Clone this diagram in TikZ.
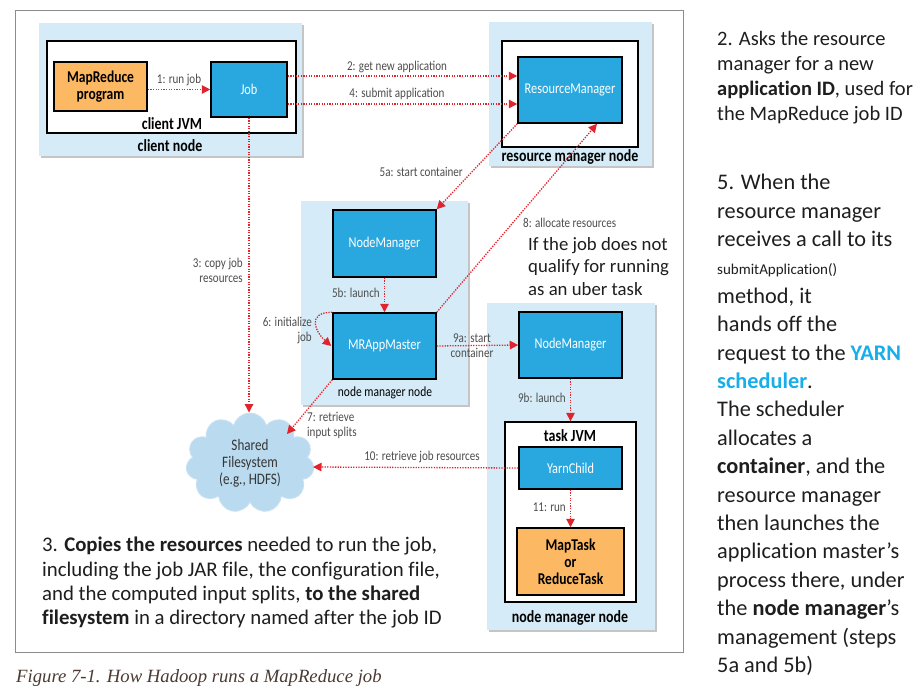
\documentclass[tikz,border=0pt]{standalone}
\usepackage{fontspec}
\setmainfont{Carlito}[Ligatures=NoCommon]
\newfontfamily\cond[FakeStretch=0.82]{Carlito}
\newfontfamily\capfont{Liberation Serif}
\usetikzlibrary{shapes.symbols,shadows,arrows.meta,calc}
\definecolor{nodebg}{HTML}{D5ECF8}
\definecolor{boxblue}{HTML}{29A8E0}
\definecolor{boxorange}{HTML}{FDB863}
\definecolor{arrred}{HTML}{E3232C}
\definecolor{cloudblue}{HTML}{B9DAEF}
\definecolor{lblgray}{HTML}{4D4D4D}
\definecolor{txt}{HTML}{1E1E1E}
\definecolor{yarn}{HTML}{17AEEA}
\definecolor{framegray}{HTML}{8C8C8C}
\definecolor{capcol}{HTML}{4B3A33}
\tikzset{
  hostnode/.style={rectangle, fill=nodebg, draw=none, inner sep=0,
    drop shadow={shadow xshift=2pt, shadow yshift=-2pt, fill=black!50, opacity=0.45}},
  jvmbox/.style={rectangle, fill=white, draw=black, line width=1.3pt, inner sep=0},
  bluebox/.style={rectangle, fill=boxblue, draw=black, line width=1.5pt, text=white,
    font=\cond\fontsize{15}{17}\selectfont, inner sep=0},
  orangebox/.style={rectangle, fill=boxorange, draw=black, line width=1.5pt, align=center,
    font=\cond\bfseries\fontsize{16.5}{17}\selectfont, inner sep=0},
  arr/.style={draw=arrred, line width=1.3pt, dash pattern=on 1.3pt off 1.3pt,
    -{Triangle[length=8.5pt,width=8.5pt]}},
  lbl/.style={text=lblgray, font=\cond\fontsize{13.5}{15}\selectfont, inner sep=0},
  blabel/.style={font=\cond\bfseries\fontsize{17}{18}\selectfont, inner sep=0},
  rtext/.style={text=txt, align=left, inner sep=0},
}
\begin{document}
\begin{tikzpicture}[x=1pt,y=-1pt]
\useasboundingbox (0,0) rectangle (923,696);
\fill[white] (0,0) rectangle (923,696);
% outer frame
\node[draw=framegray, line width=1pt, minimum width=668pt, minimum height=642pt, inner sep=0] (frame) at (349,331) {};
% host nodes
\node[hostnode, minimum width=263pt, minimum height=133pt] (cnode) at (170.5,89.5) {};
\node[hostnode, minimum width=163pt, minimum height=144pt] (rmnode) at (570.5,94) {};
\node[hostnode, minimum width=167pt, minimum height=204pt] (nmnode) at (384.5,303) {};
\node[hostnode, minimum width=168pt, minimum height=327pt] (nmnode2) at (571,466.5) {};
% jvm boxes
\node[jvmbox, minimum width=249pt, minimum height=92pt] (cjvm) at (171.5,87) {};
\node[jvmbox, minimum width=136pt, minimum height=106pt] (rmjvm) at (570,94) {};
\node[jvmbox, minimum width=131pt, minimum height=180pt] (tjvm) at (570.5,512) {};
% inner boxes
\node[orangebox, minimum width=93pt, minimum height=49pt] (mr) at (100.5,86.5) {MapReduce\\program};
\node[bluebox, minimum width=76pt, minimum height=55pt] (job) at (249,89.5) {Job};
\node[bluebox, minimum width=104pt, minimum height=66pt] (rm) at (570,90) {ResourceManager};
\node[bluebox, minimum width=103pt, minimum height=67pt] (nm) at (384.5,243.5) {NodeManager};
\node[bluebox, minimum width=103pt, minimum height=66pt] (mra) at (384.5,346) {MRAppMaster};
\node[bluebox, minimum width=103pt, minimum height=66pt] (nm2) at (570.5,345) {NodeManager};
\node[bluebox, minimum width=103pt, minimum height=42pt] (yc) at (570.5,468) {YarnChild};
\node[orangebox, minimum width=107pt, minimum height=67pt] (mt) at (570.5,561.5) {MapTask\\or\\ReduceTask};
% host labels
\node[blabel] (lcjvm) at (172,124) {client JVM};
\node[blabel] (lcnode) at (170,146) {client node};
\node[blabel] (lrmnode) at (570,157) {resource manager node};
\node[font=\cond\fontsize{14}{16}\selectfont, inner sep=0] (lnmnode) at (385,393) {node manager node};
\node[blabel] (lnmnode2) at (570,618) {node manager node};
\node[blabel] (ltjvm) at (570,436) {task JVM};
% cloud
\node[cloud, cloud puffs=11, aspect=1.3, fill=cloudblue, draw=cloudblue!80!white, line width=1pt,
  minimum width=128pt, minimum height=100pt, align=center, text=lblgray!70!black,
  font=\cond\fontsize{16}{17}\selectfont, inner sep=0] (fs) at (250,463) {Shared\\Filesystem\\(e.g., HDFS)};
\coordinate (fs7) at ($(fs.center)+(37,-29)$);
\coordinate (fs10) at ($(fs.center)+(63,4)$);
% arrows
\draw[arr] (mr.east |- job.west) -- (job.west);
\draw[arr] ($(job.east)+(0,-13.5)$) -- ($(rm.west)+(0,-14)$);
\draw[arr] ($(job.east)+(0,14.5)$) -- ($(rm.west)+(0,14)$);
\draw[arr] (rm.south west) -- (nm.north east);
\draw[arr] (mra.north east) -- ($(rm.south)+(27,0)$);
\draw[arr] (nm.south) -- (mra.north);
\draw[arr] (mra.north west) .. controls +(-26,0) and +(-16,-14) .. ($(mra.west)+(-1,0)$);
\draw[arr] (job.south) -- (job.south |- fs.north);
\draw[arr] (mra.east) -- (nm2.west);
\draw[arr] (mra.south west) -- (fs7);
\draw[arr] (nm2.south) -- (tjvm.north);
\draw[arr] (yc.south) -- (mt.north);
\draw[arr] (yc.west) -- (fs10);
% arrow labels
\node[lbl] (l1) at (179,80) {1: run job};
\node[lbl] (l2) at (397,67) {2: get new application};
\node[lbl] (l4) at (397,94) {4: submit application};
\node[lbl, anchor=east] (l5a) at (463,172) {5a: start container};
\node[lbl, anchor=west] (l8) at (523,223) {8: allocate resources};
\node[lbl, anchor=east, align=right] (l3) at (243,270) {3: copy job\\resources};
\node[lbl, anchor=east] (l5b) at (380,293) {5b: launch};
\node[lbl, anchor=east, align=right] (l6) at (312,330) {6: initialize\\job};
\node[lbl, align=center] (l9a) at (472,346) {9a: start\\container};
\node[lbl, anchor=west, align=left] (l7) at (307,425) {7: retrieve\\input splits};
\node[lbl] (l10) at (422,457) {10: retrieve job resources};
\node[lbl, anchor=east] (l9b) at (566,398) {9b: launch};
\node[lbl, anchor=east] (l11) at (566,507) {11: run};
% explanatory texts
\node[rtext, anchor=north west, font=\fontsize{20.5}{25}\selectfont] (t2) at (717,31)
  {2. Asks the resource\\manager for a new\\\textbf{application ID}, used for\\the MapReduce job ID};
\node[rtext, anchor=north west, font=\fontsize{22.3}{28.4}\selectfont] (t5) at (717,174)
  {5. When the\\resource manager\\receives a call to its\\{\fontsize{15}{18}\selectfont submitApplication()}\\method, it\\hands off the\\request to the \textcolor{yarn}{\textbf{YARN}}\\\textcolor{yarn}{\textbf{scheduler}}.\\The scheduler\\allocates a\\\textbf{container}, and the\\resource manager\\then launches the\\application master’s\\process there, under\\the \textbf{node manager}’s\\management (steps\\5a and 5b)};
\node[rtext, anchor=north west, font=\fontsize{18.75}{22.5}\selectfont] (tu) at (528,237)
  {If the job does not\\qualify for running\\as an uber task};
\node[rtext, anchor=north west, font=\fontsize{20.8}{24.3}\selectfont] (t3) at (42,537)
  {3. \textbf{Copies the resources} needed to run the job,\\including the job JAR file, the configuration file,\\and the computed input splits, \textbf{to the shared}\\\textbf{filesystem} in a directory named after the job ID};
\node[anchor=base west, inner sep=0, text=capcol, font=\capfont\itshape\fontsize{18.7}{20}\selectfont] (cap) at (16,682)
  {Figure 7-1. How Hadoop runs a MapReduce job};
\end{tikzpicture}
\end{document}
